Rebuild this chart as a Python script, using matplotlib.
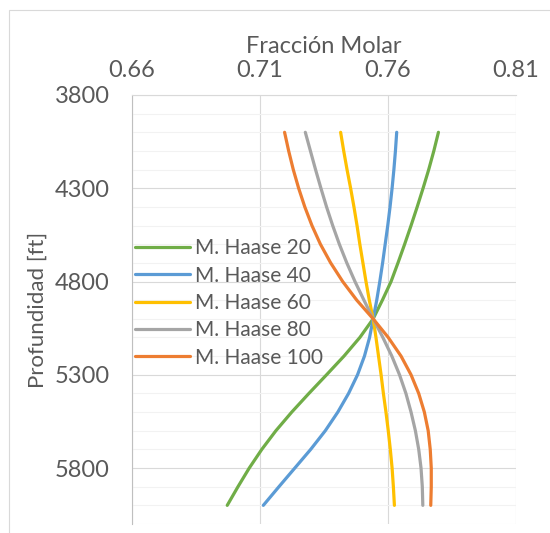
import matplotlib
matplotlib.use("Agg")
import matplotlib.pyplot as plt
from matplotlib.patches import Rectangle
from matplotlib.ticker import MultipleLocator, FixedLocator, FormatStrFormatter

plt.rcParams["font.family"] = ["Lato", "DejaVu Sans"]

depth = [4000, 4100, 4200, 4300, 4400, 4500, 4600, 4700, 4800, 4900, 5000,
         5100, 5200, 5300, 5400, 5500, 5600, 5700, 5800, 5900, 6000]

haase_20 = [0.7797, 0.7779, 0.7759, 0.7737, 0.7714, 0.7690, 0.7665, 0.7639, 0.7612, 0.7578, 0.7542,
            0.7490, 0.7428, 0.7360, 0.7291, 0.7224, 0.7162, 0.7107, 0.7058, 0.7014, 0.6972]
haase_40 = [0.7634, 0.7629, 0.7623, 0.7616, 0.7608, 0.7599, 0.7589, 0.7579, 0.7568, 0.7556, 0.7542,
            0.7528, 0.7508, 0.7481, 0.7446, 0.7404, 0.7355, 0.7298, 0.7236, 0.7174, 0.7113]
haase_60 = [0.7415, 0.7427, 0.7440, 0.7454, 0.7467, 0.7479, 0.7490, 0.7502, 0.7514, 0.7527, 0.7542,
            0.7553, 0.7563, 0.7573, 0.7582, 0.7592, 0.7601, 0.7609, 0.7616, 0.7621, 0.7625]
haase_80 = [0.7277, 0.7297, 0.7317, 0.7338, 0.7360, 0.7384, 0.7410, 0.7439, 0.7471, 0.7506, 0.7542,
            0.7580, 0.7615, 0.7645, 0.7670, 0.7690, 0.7707, 0.7720, 0.7729, 0.7734, 0.7736]
haase_100 = [0.7196, 0.7212, 0.7230, 0.7251, 0.7275, 0.7303, 0.7336, 0.7376, 0.7423, 0.7478, 0.7542,
             0.7601, 0.7651, 0.7690, 0.7720, 0.7742, 0.7757, 0.7765, 0.7769, 0.7769, 0.7767]

labels = ["M. Haase 20", "M. Haase 40", "M. Haase 60", "M. Haase 80", "M. Haase 100"]
colors = ["#70AD47", "#5B9BD5", "#FFC000", "#A5A5A5", "#ED7D31"]
x_ticks = [0.66, 0.71, 0.76, 0.81]
y_ticks = [3800, 4300, 4800, 5300, 5800]

TXT = "#595959"

fig = plt.figure(figsize=(5.5, 5.33), dpi=100)
ax = fig.add_axes([132 / 550, 1 - 524 / 533, (516 - 132) / 550, (524 - 95) / 533])

for xs, lab, col in zip([haase_20, haase_40, haase_60, haase_80, haase_100], labels, colors):
    ax.plot(xs, depth, color=col, lw=2.3, label=lab, solid_capstyle="round")

ax.set_xlim(0.66, 0.81)
ax.set_ylim(6100, 3800)
ax.xaxis.tick_top()
ax.xaxis.set_label_position("top")
ax.xaxis.set_major_locator(FixedLocator(x_ticks))
ax.xaxis.set_major_formatter(FormatStrFormatter("%.2f"))
ax.yaxis.set_major_locator(FixedLocator(y_ticks))
ax.yaxis.set_minor_locator(MultipleLocator(100))
ax.tick_params(which="both", length=0, labelsize=17, labelcolor=TXT)
ax.tick_params(axis="x", pad=10)
ax.tick_params(axis="y", pad=16)

ax.grid(which="major", color="#D9D9D9", lw=0.8)
ax.grid(which="minor", axis="y", color="#F2F2F2", lw=0.8)
ax.set_axisbelow(True)
for s in ["right", "bottom"]:
    ax.spines[s].set_visible(False)
ax.spines["left"].set_color("#BFBFBF")
ax.spines["top"].set_color("#D9D9D9")

ax.set_xlabel("Fracción Molar", fontsize=17, color=TXT, labelpad=5)
ax.set_ylabel("Profundidad [ft]", fontsize=16, color=TXT, labelpad=5)

ax.legend(loc="center left", bbox_to_anchor=(135 / 550, 1 - 303 / 533),
          bbox_transform=fig.transFigure, frameon=False, fontsize=15,
          labelcolor=TXT, handlelength=2.65, handletextpad=0.25,
          labelspacing=0.35, borderpad=0, borderaxespad=0)

fig.patches.append(Rectangle((9 / 550, -0.1), 1.2, 1.1 - 10 / 533, transform=fig.transFigure,
                             fill=False, ec="#D9D9D9", lw=0.8))

fig.savefig("out.png", dpi=100)
